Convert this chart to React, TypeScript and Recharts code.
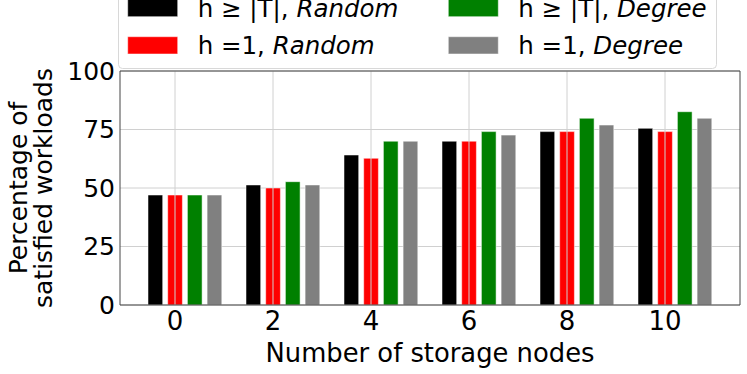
import React from 'react';
import { BarChart, Bar, XAxis, YAxis, CartesianGrid, ReferenceLine, Legend } from 'recharts';

// ---- data ----
const CATEGORIES = ['0', '2', '4', '6', '8', '10'];
const NODE_COUNTS = [0, 2, 4, 6, 8, 10];
const HT_RANDOM = [47, 51.3, 64.1, 70, 74.1, 75.5];
const H1_RANDOM = [47, 50, 62.7, 70, 74.1, 74.1];
const HT_DEGREE = [47, 52.7, 70, 74.1, 79.8, 82.6];
const H1_DEGREE = [47, 51.3, 70, 72.6, 76.9, 79.8];
const Y_TICKS = [0, 25, 50, 75, 100];
const X_TICKS = [0, 2, 4, 6, 8, 10];

const SERIES_KEYS = ['htRandom', 'h1Random', 'htDegree', 'h1Degree'];
const SERIES_PREFIX = ['h \u2265 |T|, ', 'h =1, ', 'h \u2265 |T|, ', 'h =1, '];
const SERIES_METHOD = ['Random', 'Random', 'Degree', 'Degree'];
const SERIES_COLORS = ['#000000', '#ff0000', '#008000', '#808080'];
const SERIES_VALUES = [HT_RANDOM, H1_RANDOM, HT_DEGREE, H1_DEGREE];

const X_LABEL = 'Number of storage nodes';
const Y_LABEL_LINES = ['Percentage of', 'satisfied workloads'];

const data = CATEGORIES.map((c, i) => {
  const row: any = { cat: c, n: NODE_COUNTS[i] };
  SERIES_KEYS.forEach((k, s) => {
    row[k] = SERIES_VALUES[s][i];
  });
  return row;
});

const FONT = "'DejaVu Sans', sans-serif";
const AXIS_COLOR = '#444444';
const GRID_COLOR = '#d0d0d0';

const renderLegend = (props: any) => {
  const payload = props.payload || [];
  return (
    <svg width={600} height={82} style={{ display: 'block', overflow: 'visible' }}>
      <rect x={0.5} y={0.5} width={598} height={80} rx={4} ry={4} fill="#ffffff" stroke="#d8d8d8" strokeWidth={1} />
      {payload.map((entry: any, i: number) => {
        const idx = SERIES_KEYS.indexOf(entry.dataKey);
        const s = idx >= 0 ? idx : i;
        const col = Math.floor(s / 2);
        const row = s % 2;
        const sx = 9.7 + col * 320.6;
        const baseline = 28.7 + row * 37.3;
        return (
          <g key={s}>
            <rect x={sx} y={baseline - 17.3} width={50} height={17.3} fill={SERIES_COLORS[s]} stroke="rgba(255,255,255,0.5)" strokeWidth={1} />
            <text x={sx + 70} y={baseline} fontSize={24.5} fontFamily={FONT} fill="#000">
              {SERIES_PREFIX[s]}
              <tspan fontStyle="italic">{SERIES_METHOD[s]}</tspan>
            </text>
          </g>
        );
      })}
    </svg>
  );
};

const YLabel = (props: any) => {
  const vb = props.viewBox || { x: 0, y: 71, width: 120, height: 234 };
  const cy = vb.y + vb.height / 2;
  const xs = [26.7, 51.7];
  return (
    <g>
      {Y_LABEL_LINES.map((t, i) => (
        <text
          key={i}
          x={xs[i]}
          y={cy}
          textAnchor="middle"
          fontSize={25}
          fontFamily={FONT}
          fill="#000"
          transform={`rotate(-90, ${xs[i]}, ${cy})`}
        >
          {t}
        </text>
      ))}
    </g>
  );
};

const XLabel = (props: any) => {
  const vb = props.viewBox || { x: 120, y: 305, width: 620, height: 69 };
  return (
    <text x={vb.x + vb.width / 2} y={vb.y + 56.7} textAnchor="middle" fontSize={25.8} fontFamily={FONT} fill="#000">
      {X_LABEL}
    </text>
  );
};

export default function App() {
  return (
    <div style={{ position: 'absolute', left: 0, top: 0, width: 747, height: 374, background: '#fff', fontFamily: FONT }}>
      <BarChart
        width={747}
        height={374}
        data={data}
        margin={{ top: 70, right: 6, bottom: 0, left: 0 }}
        barGap={5}
        barSize={14.7}
      >
        <CartesianGrid horizontal={true} vertical={false} stroke={GRID_COLOR} strokeWidth={1} />
        <XAxis xAxisId="bars" dataKey="cat" type="category" hide height={0} padding={{ left: 16, right: 16 }} />
        <XAxis
          xAxisId="t"
          dataKey="n"
          type="number"
          domain={[0, 10]}
          ticks={X_TICKS}
          allowDataOverflow
          padding={{ left: 55, right: 75 }}
          height={69}
          tickSize={0}
          tickMargin={7}
          tickLine={false}
          axisLine={{ stroke: AXIS_COLOR, strokeWidth: 1 }}
          tick={{ fontSize: 26, fill: '#000', fontFamily: FONT }}
          label={<XLabel />}
        />
        <XAxis
          xAxisId="top"
          orientation="top"
          type="number"
          domain={[0, 1]}
          height={1}
          tick={false}
          tickLine={false}
          axisLine={{ stroke: AXIS_COLOR, strokeWidth: 1 }}
        />
        <YAxis
          domain={[0, 100]}
          ticks={Y_TICKS}
          width={120}
          tickSize={0}
          tickMargin={5}
          tickLine={false}
          axisLine={{ stroke: AXIS_COLOR, strokeWidth: 1 }}
          tick={{ fontSize: 25, fill: '#000', fontFamily: FONT }}
          label={<YLabel />}
        />
        <YAxis
          yAxisId="r"
          orientation="right"
          domain={[0, 100]}
          width={1}
          tick={false}
          tickLine={false}
          axisLine={{ stroke: AXIS_COLOR, strokeWidth: 1 }}
        />
        {SERIES_KEYS.map((k, s) => (
          <Bar
            key={k}
            xAxisId="bars"
            dataKey={k}
            name={SERIES_PREFIX[s] + SERIES_METHOD[s]}
            fill={SERIES_COLORS[s]}
            stroke="rgba(255,255,255,0.5)"
            strokeWidth={1}
            isAnimationActive={false}
          />
        ))}
        {X_TICKS.map((v) => (
          <ReferenceLine key={v} xAxisId="t" x={v} stroke={GRID_COLOR} strokeWidth={1} />
        ))}
        <Legend
          layout="horizontal"
          verticalAlign="middle"
          align="center"
          content={renderLegend}
          wrapperStyle={{ position: 'absolute', top: -12, left: 118, width: 600, height: 82, margin: 0 }}
        />
      </BarChart>
    </div>
  );
}
